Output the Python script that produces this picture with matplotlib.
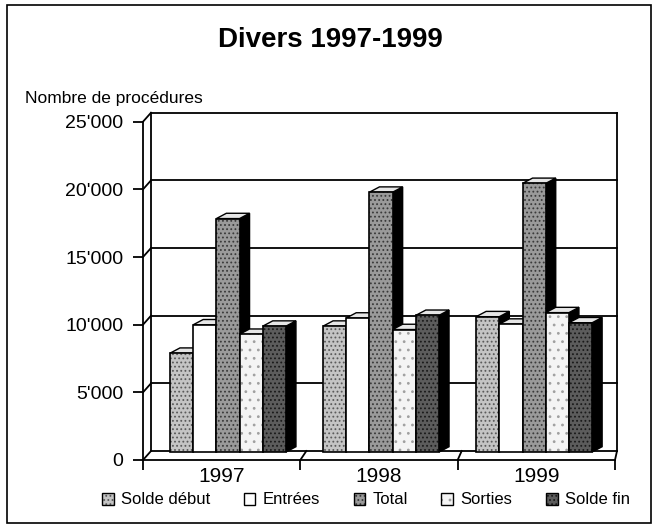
import matplotlib
matplotlib.use('Agg')
import matplotlib.pyplot as plt
from matplotlib.patches import Rectangle, Polygon
from matplotlib.ticker import FuncFormatter

plt.rcParams['font.family'] = ['Liberation Sans', 'DejaVu Sans']
plt.rcParams['hatch.linewidth'] = 0.8

# data
years = ['1997', '1998', '1999']
series_names = ['Solde début', 'Entrées', 'Total', 'Sorties', 'Solde fin']
solde_debut = [7300, 9300, 10000]
entrees = [9400, 9900, 9450]
total = [17250, 19200, 19850]
sorties = [8700, 9050, 10300]
solde_fin = [9300, 10100, 9550]
y_ticks = [0, 5000, 10000, 15000, 20000, 25000]

series_values = [solde_debut, entrees, total, sorties, solde_fin]

# fill styles (face, hatch, hatch colour) imitating the stippled print
styles = [
    ('#c4c4c4', '....', '#5a5a5a'),
    ('white', None, None),
    ('#9a9a9a', '....', '#3a3a3a'),
    ('#f4f4f4', '..', '#a0a0a0'),
    ('#5c5c5c', '....', '#1a1a1a'),
]

W, H = 659, 530
fig = plt.figure(figsize=(W / 100, H / 100), dpi=100)
ax = fig.add_axes([143 / W, (H - 460) / H, (615 - 143) / W, (460 - 121.7) / H])
ax.set_xlim(0, 3)
ax.set_ylim(0, 25000)

# pixel -> data unit helpers
px_x = 3 / (615 - 143)
px_y = 25000 / (460 - 121.7)


def back(x, y):
    # position on the back wall (3d offset shrinks a bit to the right)
    return x + (8 - 6 * x / 3) * px_x, y + 9 * px_y


LW = 1.3
kw = dict(color='black', lw=LW, clip_on=False, zorder=1)

# back wall and floor
for t in y_ticks:
    x0, yb = back(0, t)
    x1, _ = back(3, t)
    ax.plot([x0, x1], [yb, yb], **kw)
    ax.plot([0, x0], [t, yb], **kw)
for x in [1, 2, 3]:
    xb, yb = back(x, 0)
    ax.plot([x, xb], [0, yb], **kw)
for x in [0, 3]:
    xb, y0 = back(x, 0)
    _, y1 = back(x, 25000)
    ax.plot([xb, xb], [y0, y1], **kw)

# 3d bars
base = 8 * px_y
bw = 23.2 * px_x
ddx = 10 * px_x
ddy = 5.3 * px_y
for i in range(len(years)):
    center = 0.5 + 0.973 * i + 0.04
    left = center - 2.5 * bw
    for j, vals in enumerate(series_values):
        face, hatch, hc = styles[j]
        x0 = left + j * bw
        x1 = x0 + bw
        y1 = base + vals[i]
        z = 3 + i * 10 + j
        ax.add_patch(Polygon([(x1, base), (x1 + ddx, base + ddy), (x1 + ddx, y1 + ddy), (x1, y1)],
                             closed=True, facecolor='black', edgecolor='black', lw=1, zorder=z, clip_on=False))
        ax.add_patch(Polygon([(x0, y1), (x0 + ddx, y1 + ddy), (x1 + ddx, y1 + ddy), (x1, y1)],
                             closed=True, facecolor='#e6e6e6', edgecolor='black', lw=1, zorder=z, clip_on=False))
        ax.add_patch(Rectangle((x0, base), bw, vals[i], facecolor=face, hatch=hatch,
                               edgecolor=hc if hc else face, lw=0, zorder=z, clip_on=False))
        ax.add_patch(Rectangle((x0, base), bw, vals[i], facecolor='none',
                               edgecolor='black', lw=1.2, zorder=z, clip_on=False))

# axes styling
for s in ['top', 'right']:
    ax.spines[s].set_visible(False)
for s in ['left', 'bottom']:
    ax.spines[s].set_linewidth(LW)
    ax.spines[s].set_zorder(40)
ax.patch.set_visible(False)

ax.set_yticks(y_ticks)
ax.yaxis.set_major_formatter(FuncFormatter(lambda v, p: f"{int(v):,}".replace(',', "'")))
ax.tick_params(axis='y', direction='out', length=7, width=LW, pad=7, labelsize=14)

ax.set_xticks([0, 1, 2, 3])
ax.set_xticklabels([])
ax.set_xticks([0.5, 1.5, 2.5], minor=True)
ax.set_xticklabels(years, minor=True)
ax.tick_params(axis='x', which='major', direction='out', length=7, width=LW)
ax.tick_params(axis='x', which='minor', length=0, pad=5, labelsize=15)

# titles
fig.text(330 / W, 1 - 40 / H, 'Divers 1997-1999', ha='center', va='center',
         fontsize=20, fontweight='bold')
fig.text(25 / W, 1 - 103 / H, 'Nombre de procédures', ha='left', va='baseline', fontsize=12.5)

# legend
handles = []
for face, hatch, hc in styles:
    fill = Rectangle((0, 0), 1, 1, facecolor=face, hatch=hatch, edgecolor=hc if hc else face, lw=0)
    outline = Rectangle((0, 0), 1, 1, facecolor='none', edgecolor='black', lw=1)
    handles.append((fill, outline))
fig.legend(handles, series_names, loc='center', bbox_to_anchor=(366 / W, (H - 500) / H),
           ncol=5, frameon=False, fontsize=12, handlelength=0.7, handleheight=0.7,
           handletextpad=0.45, columnspacing=2.0, borderpad=0, borderaxespad=0)

# outer frame
fig.patches.append(Rectangle((7 / W, 1 - 523 / H), (651 - 7) / W, (523 - 5) / H,
                             transform=fig.transFigure, fill=False, edgecolor='black', lw=1.2))

fig.savefig('out.png', dpi=100)
